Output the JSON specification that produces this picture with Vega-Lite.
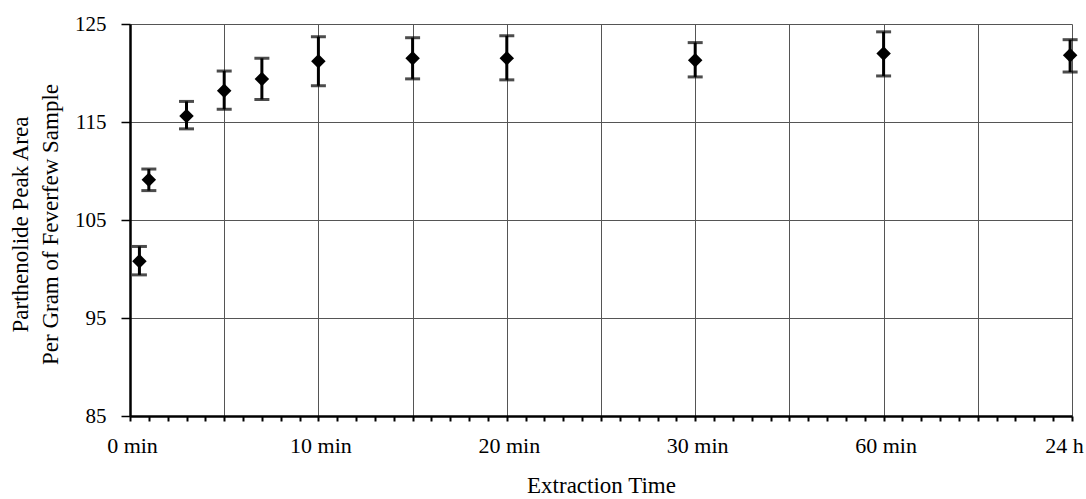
{
  "$schema": "https://vega.github.io/schema/vega-lite/v6.json",
  "autosize": {"type": "none"},
  "width": 942,
  "height": 392,
  "padding": {"left": 130, "top": 24, "right": 14, "bottom": 83},
  "background": "white",
  "config": {
    "view": {"stroke": null},
    "font": "Liberation Serif"
  },
  "data": {
    "values": [
      {"t": 0.5, "v": 100.8, "lo": 99.4, "hi": 102.3},
      {"t": 1, "v": 109.1, "lo": 108.0, "hi": 110.2},
      {"t": 3, "v": 115.6, "lo": 114.3, "hi": 117.1},
      {"t": 5, "v": 118.2, "lo": 116.3, "hi": 120.2},
      {"t": 7, "v": 119.4, "lo": 117.3, "hi": 121.5},
      {"t": 10, "v": 121.2, "lo": 118.7, "hi": 123.7},
      {"t": 15, "v": 121.5, "lo": 119.4, "hi": 123.6},
      {"t": 20, "v": 121.5, "lo": 119.3, "hi": 123.8},
      {"t": 30, "v": 121.3, "lo": 119.6, "hi": 123.1},
      {"t": 40, "v": 122.0, "lo": 119.7, "hi": 124.2},
      {"t": 49.9, "v": 121.8, "lo": 120.1, "hi": 123.4}
    ]
  },
  "encoding": {
    "x": {
      "field": "t",
      "type": "quantitative",
      "scale": {"domain": [0, 50], "nice": false, "zero": false},
      "axis": {
        "title": "Extraction Time",
        "titleFont": "Liberation Serif",
        "titleFontSize": 23,
        "titleFontWeight": "normal",
        "titleColor": "black",
        "titleBaseline": "alphabetic",
        "titleY": 76,
        "values": [0,1,2,3,4,5,6,7,8,9,10,11,12,13,14,15,16,17,18,19,20,21,22,23,24,25,26,27,28,29,30,31,32,33,34,35,36,37,38,39,40,41,42,43,44,45,46,47,48,49,50],
        "labelExpr": "datum.value === 0 ? '0 min' : datum.value === 10 ? '10 min' : datum.value === 20 ? '20 min' : datum.value === 30 ? '30 min' : datum.value === 40 ? '60 min' : datum.value === 50 ? '24 h' : ''",
        "labelOverlap": false,
        "labelFlush": false,
        "labelFont": "Liberation Serif",
        "labelFontSize": 22,
        "labelColor": "black",
        "labelPadding": 14,
        "labelOffset": {"condition": {"test": "datum.value === 50", "value": -8}, "value": 2},
        "tickSize": 5,
        "tickWidth": 2,
        "tickColor": "black",
        "domainColor": "black",
        "domainWidth": 2.5,
        "grid": true,
        "gridColor": "#555555",
        "gridWidth": 1,
        "gridOpacity": {"condition": {"test": "datum.value % 5 === 0", "value": 1}, "value": 0}
      }
    }
  },
  "layer": [
    {
      "mark": {
        "type": "errorbar",
        "ticks": {"size": 15, "thickness": 3, "color": "black"},
        "rule": {"strokeWidth": 3, "color": "black"}
      },
      "encoding": {
        "y": {
          "field": "lo",
          "type": "quantitative",
          "scale": {"domain": [85, 125], "nice": false, "zero": false},
          "axis": {
            "title": ["Parthenolide Peak Area", "Per Gram of Feverfew Sample"],
            "titleFont": "Liberation Serif",
            "titleFontSize": 23,
            "titleFontWeight": "normal",
            "titleColor": "black",
            "titleAngle": 270,
            "titleAlign": "center",
            "titleBaseline": "alphabetic",
            "titleLineHeight": 30,
            "titleX": -103,
            "titleY": 200,
            "values": [85, 95, 105, 115, 125],
            "labelFont": "Liberation Serif",
            "labelFontSize": 21,
            "labelColor": "black",
            "labelPadding": 15,
            "tickSize": 9,
            "tickWidth": 1.5,
            "tickColor": "black",
            "domainColor": "black",
            "domainWidth": 2.5,
            "grid": true,
            "gridColor": "#555555",
            "gridWidth": 1
          }
        },
        "y2": {"field": "hi"}
      }
    },
    {
      "mark": {"type": "point", "shape": "diamond", "filled": true, "color": "black", "size": 210, "opacity": 1},
      "encoding": {
        "y": {"field": "v", "type": "quantitative"}
      }
    }
  ]
}
